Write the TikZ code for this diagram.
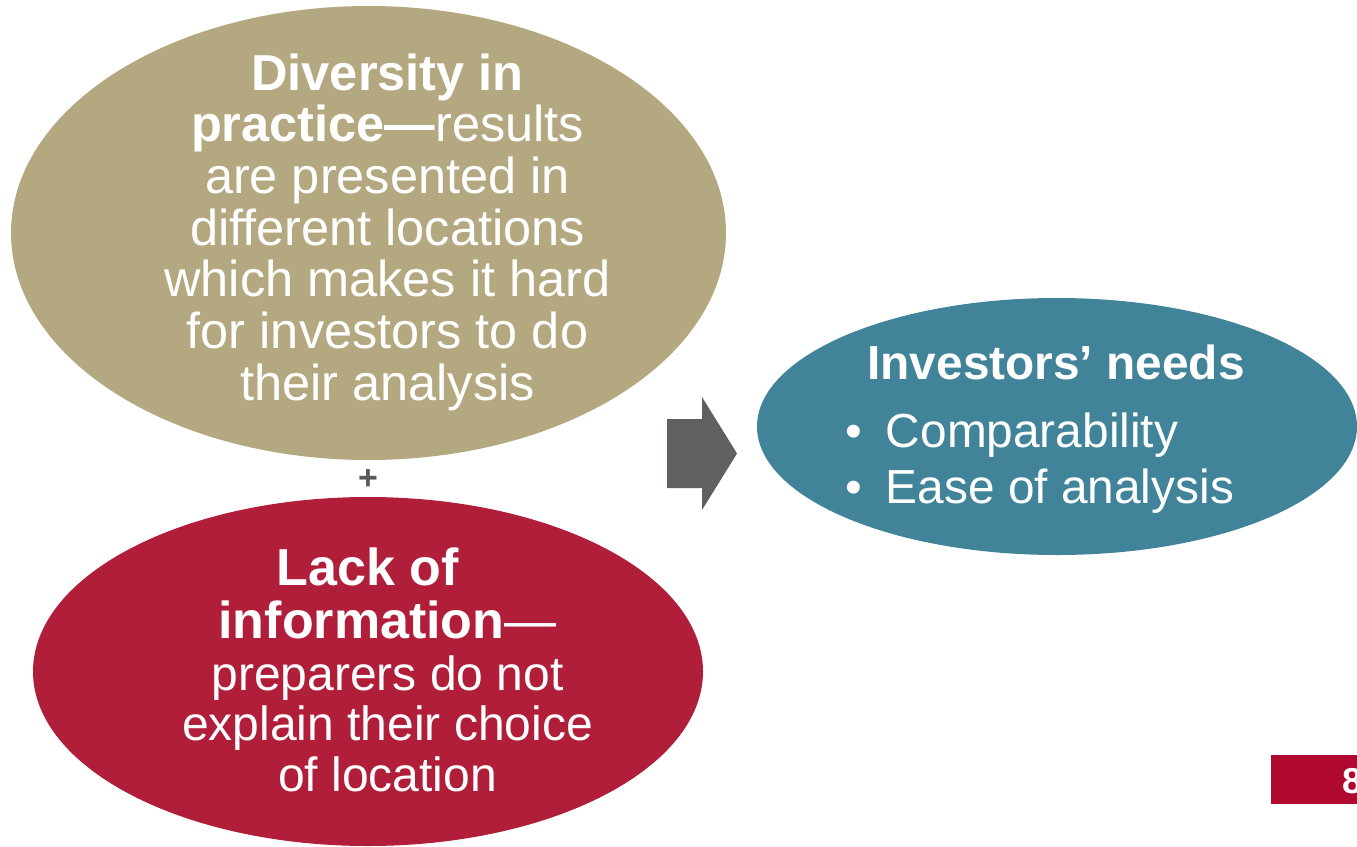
\documentclass[tikz,border=0pt]{standalone}
\usepackage{fontspec}
\setmainfont{Liberation Sans}
\usetikzlibrary{shapes.geometric}
\definecolor{tanc}{HTML}{B3A87F}
\definecolor{redc}{HTML}{B11E3A}
\definecolor{tealc}{HTML}{41849A}
\definecolor{arrowc}{HTML}{5F6062}
\definecolor{plusc}{HTML}{595959}
\definecolor{boxc}{HTML}{AF0930}
\tikzset{
  blob/.style={ellipse, draw=none, inner sep=0pt},
  tantxt/.style={text=white, inner sep=0pt, anchor=base, font=\fontsize{50.5}{52}\selectfont},
  redtxt/.style={text=white, inner sep=0pt, anchor=base, font=\fontsize{48}{52}\selectfont},
  redbold/.style={text=white, inner sep=0pt, anchor=base, font=\fontsize{52}{52}\selectfont},
  tealtxt/.style={text=white, inner sep=0pt, font=\fontsize{47.8}{52}\selectfont},
}
\begin{document}
\begin{tikzpicture}[x=1pt,y=-1pt]
\clip (0,0) rectangle (1357,846);
\fill[white] (0,0) rectangle (1357,846);

% ellipses
\node[blob, fill=tanc, minimum width=715pt, minimum height=454pt] (tan) at (368.5,233) {};
\node[blob, fill=redc, minimum width=670pt, minimum height=349pt] (red) at (368,671.5) {};
\node[blob, fill=tealc, minimum width=600pt, minimum height=257pt] (teal) at (1057,426.5) {};

% tan text
\foreach \t [count=\i from 0] in {
  {\textbf{Diversity in}},
  {\textbf{practice—}results},
  {are presented in},
  {different locations},
  {which makes it hard},
  {for investors to do},
  {their analysis}}
  \node[tantxt] (tant\i) at (387.5, 90+\i*51.7) {\t};

% red text
\node[redbold] (redt0) at (368,585) {\textbf{Lack of}};
\node[redbold] (redt1) at (387.5,638) {\textbf{information}—};
\foreach \t [count=\i from 2] in {
  {preparers do not},
  {explain their choice},
  {of location}}
  \node[redtxt] (redt\i) at (387.5, 589+\i*50.5) {\t};

% teal text
\node[tealtxt, anchor=base] (title) at (1056,379) {\textbf{Investors’ needs}};
\node[tealtxt, anchor=base west] (b1) at (845,447) {•\hspace{24pt}Comparability};
\node[tealtxt, anchor=base west] (b2) at (845,503) {•\hspace{24pt}Ease of analysis};

% plus sign
\node[text=plusc, inner sep=0pt, font=\fontsize{34}{34}\selectfont\bfseries] (plus) at (368,480) {+};

% block arrow
\fill[arrowc] (667,419) -- (702,419) -- (702,397) -- (737,453.5) -- (702,510) -- (702,488) -- (667,488) -- cycle;

% page number box
\node[fill=boxc, minimum width=86pt, minimum height=49pt, inner sep=0pt, anchor=north west] (pbox) at (1271,755) {};
\node[text=white, inner sep=0pt, anchor=base west, font=\fontsize{36}{36}\selectfont\bfseries] (pnum) at (1342.5,793) {8};
\end{tikzpicture}
\end{document}
